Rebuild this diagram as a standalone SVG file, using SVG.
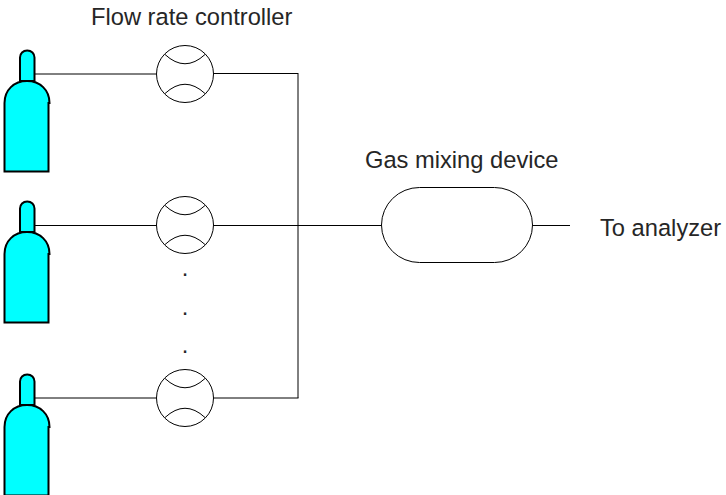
<svg xmlns="http://www.w3.org/2000/svg" width="726" height="495" viewBox="0 0 726 495">
<style>
text{font-family:"Liberation Sans",Arial,sans-serif;font-size:23.7px;fill:#262626}
.l{fill:none;stroke:#000;stroke-width:1}
.b{fill:#0ff;stroke:#000;stroke-width:2}
.f{fill:#fff;stroke:#000;stroke-width:1}
.g{fill:none;stroke:#000;stroke-width:1}
</style>
<defs>
<g id="bottle">
<path class="b" d="M20 81V57.500C20 53.500 23 50.500 27.200 50.500C31.500 50.500 34.500 53.500 34.500 57.500V81Z"/>
<path class="b" d="M4.500 171.500V103C4.500 90 14 81 27 81C40 81 49.500 90 49.500 103H48.500V171.500Z"/>
</g>
<g id="meter">
<circle class="f" cx="185" cy="0" r="28.5"/>
<path class="l" d="M165 -19.500Q185 -1 205 -19.500M165 19.500Q185 1 205 19.500"/>
</g>
</defs>
<g id="connectors">
<path class="g" d="M35 74H156.500M35 398H156.500M213.500 398H298.500M298 74V398"/>
<path class="l" d="M213.500 73.500H298.500M35 225.500H156.500M213.500 225.500H381.500M532.500 225.500H570"/>
</g>
<g id="bottle1"><use href="#bottle"/></g>
<g id="bottle2"><use href="#bottle" y="151"/></g>
<g id="bottle3"><use href="#bottle" y="324"/></g>
<g id="meter1"><use href="#meter" y="74"/></g>
<g id="meter2"><use href="#meter" y="225"/></g>
<g id="meter3"><use href="#meter" y="398"/></g>
<g id="mixer"><rect class="f" x="381.500" y="187.500" width="151" height="75" rx="38" ry="37.500"/></g>
<g id="labels">
<text x="91" y="25">Flow rate controller</text>
<text x="365" y="168">Gas mixing device</text>
<text x="600" y="236">To analyzer</text>
<text x="181.700" y="275.500">.</text>
<text x="181.700" y="314.500">.</text>
<text x="181.700" y="352.500">.</text>
</g>
</svg>
